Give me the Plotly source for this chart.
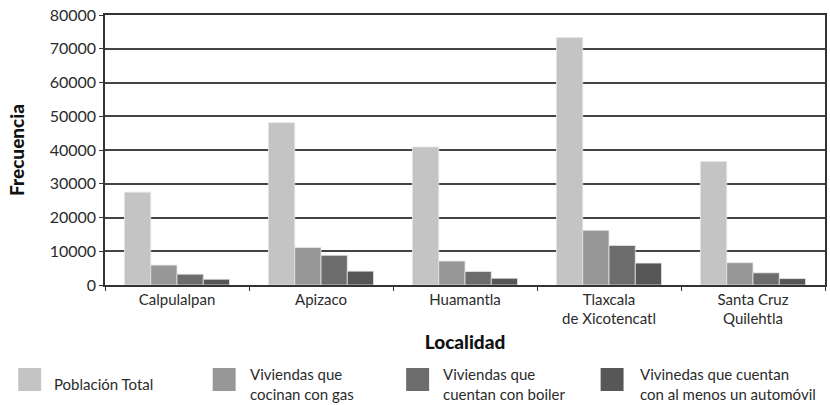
import plotly.graph_objects as go

categories = ["Calpulalpan", "Apizaco", "Huamantla", "Tlaxcala<br>de Xicotencatl", "Santa Cruz<br>Quilehtla"]
series_names = ["Población Total", "Viviendas que<br>cocinan con gas", "Viviendas que<br>cuentan con boiler",
                "Vivinedas que cuentan<br>con al menos un automóvil"]
poblacion_total = [27500, 48100, 40900, 73300, 36600]
viviendas_gas = [5900, 11100, 7100, 16200, 6600]
viviendas_boiler = [3200, 8800, 4000, 11700, 3600]
viviendas_auto = [1700, 4100, 2000, 6500, 1900]
series_values = [poblacion_total, viviendas_gas, viviendas_boiler, viviendas_auto]
colors = ["#c4c4c4", "#979797", "#6c6c6c", "#575757"]
y_ticks = [0, 10000, 20000, 30000, 40000, 50000, 60000, 70000, 80000]

W, H = 830, 405
ML, MR, MT, MB = 105, 3, 15, 120
PW, PH = W - ML - MR, H - MT - MB

def px_x(p):
    return (p - ML) / PW

def px_y(p):
    return (H - MB - p) / PH

FONT = "Lato"
TXT = "#2b2b2b"

fig = go.Figure()
for name, vals, col in zip(series_names, series_values, colors):
    fig.add_trace(go.Bar(x=categories, y=vals, name=name, marker_color=col,
                         marker_line=dict(color="#e6e6e6", width=0.8), showlegend=False))

# manual legend with large square swatches
sw_x = [18, 213, 407, 602]
tx_x = [52, 248, 442, 639]
for i, (name, col) in enumerate(zip(series_names, colors)):
    fig.add_shape(type="rect", xref="paper", yref="paper",
                  x0=px_x(sw_x[i]), x1=px_x(sw_x[i] + 23), y0=px_y(391), y1=px_y(368),
                  fillcolor=col, line=dict(width=0))
    fig.add_annotation(xref="paper", yref="paper", x=px_x(tx_x[i]), y=px_y(384),
                       text=name, showarrow=False, xanchor="left", yanchor="middle",
                       align="left", font=dict(family=FONT, size=15, color=TXT))

fig.update_layout(
    width=W, height=H,
    margin=dict(l=ML, r=MR, t=MT, b=MB),
    paper_bgcolor="white", plot_bgcolor="white",
    barmode="group", bargap=0.27, bargroupgap=0,
    font=dict(family=FONT, size=15, color=TXT),
)
fig.update_xaxes(
    showline=True, linecolor="#333", linewidth=1.5, mirror=True,
    ticks="outside", tickson="boundaries", ticklen=4, tickcolor="#333", tickwidth=1,
    showgrid=False,
    tickfont=dict(family=FONT, size=15, color=TXT),
    title=dict(text="Localidad", font=dict(family=FONT, size=19, color="#111", weight=900), standoff=9),
)
fig.update_yaxes(
    range=[0, 80000], tickvals=y_ticks, ticktext=[str(v) for v in y_ticks],
    showline=True, linecolor="#333", linewidth=1.5, mirror=True,
    ticks="outside", ticklen=4, tickcolor="#333",
    showgrid=True, gridcolor="#444", gridwidth=1.5,
    tickfont=dict(family=FONT, size=16, color=TXT),
    title=dict(text="Frecuencia", font=dict(family=FONT, size=19, color="#111", weight=900), standoff=20),
)
fig.write_html("out.html")
